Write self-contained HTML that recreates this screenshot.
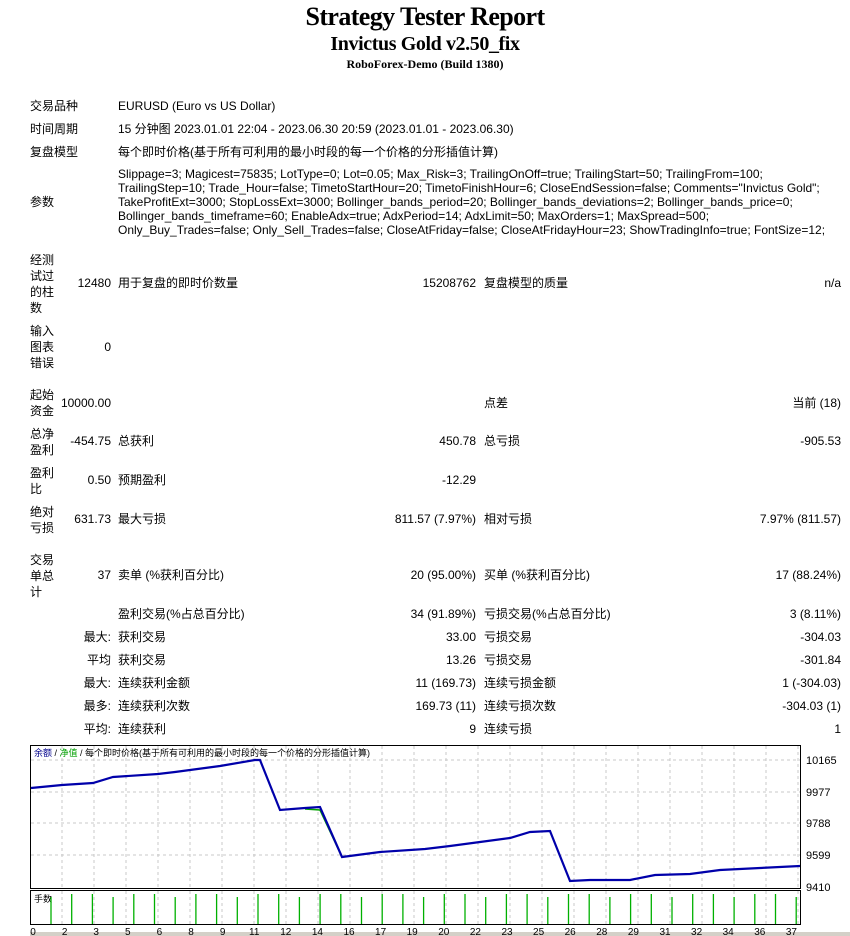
<!DOCTYPE html>
<html><head><meta charset="utf-8"><style>
body{margin:0;width:850px;height:936px;background:#fff;position:relative;overflow:hidden;font-family:"Liberation Sans","Noto Sans CJK SC",sans-serif;font-size:12px;color:#000}
.t{position:absolute;white-space:nowrap;line-height:14px}
.r{text-align:right}
.h{position:absolute;left:0;width:850px;text-align:center;font-family:"Liberation Serif",serif;font-weight:bold;white-space:nowrap}
.ml{position:absolute;left:30px;line-height:16px;width:30px;white-space:normal}
</style></head><body>
<div class="h" style="top:2px;font-size:26px;letter-spacing:-0.6px">Strategy Tester Report</div>
<div class="h" style="top:33px;font-size:20px;letter-spacing:-0.4px">Invictus Gold v2.50_fix</div>
<div class="h" style="top:57px;font-size:12px">RoboForex-Demo (Build 1380)</div>

<div class="t" style="left:30px;top:99px">交易品种</div>
<div class="t" style="left:118px;top:99px">EURUSD (Euro vs US Dollar)</div>
<div class="t" style="left:30px;top:122px">时间周期</div>
<div class="t" style="left:118px;top:122px">15 分钟图 2023.01.01 22:04 - 2023.06.30 20:59 (2023.01.01 - 2023.06.30)</div>
<div class="t" style="left:30px;top:145px">复盘模型</div>
<div class="t" style="left:118px;top:145px">每个即时价格(基于所有可利用的最小时段的每一个价格的分形插值计算)</div>
<div class="t" style="left:30px;top:195px">参数</div>
<div class="t" style="left:118px;top:167px">Slippage=3; Magicest=75835; LotType=0; Lot=0.05; Max_Risk=3; TrailingOnOff=true; TrailingStart=50; TrailingFrom=100;</div>
<div class="t" style="left:118px;top:181px">TrailingStep=10; Trade_Hour=false; TimetoStartHour=20; TimetoFinishHour=6; CloseEndSession=false; Comments="Invictus Gold";</div>
<div class="t" style="left:118px;top:195px">TakeProfitExt=3000; StopLossExt=3000; Bollinger_bands_period=20; Bollinger_bands_deviations=2; Bollinger_bands_price=0;</div>
<div class="t" style="left:118px;top:209px">Bollinger_bands_timeframe=60; EnableAdx=true; AdxPeriod=14; AdxLimit=50; MaxOrders=1; MaxSpread=500;</div>
<div class="t" style="left:118px;top:223px">Only_Buy_Trades=false; Only_Sell_Trades=false; CloseAtFriday=false; CloseAtFridayHour=23; ShowTradingInfo=true; FontSize=12;</div>

<div class="ml" style="top:252px">经测<br>试过<br>的柱<br>数</div>
<div class="t r" style="right:739px;top:276px">12480</div>
<div class="t" style="left:118px;top:276px">用于复盘的即时价数量</div>
<div class="t r" style="right:374px;top:276px">15208762</div>
<div class="t" style="left:484px;top:276px">复盘模型的质量</div>
<div class="t r" style="right:9px;top:276px">n/a</div>

<div class="ml" style="top:323px">输入<br>图表<br>错误</div>
<div class="t r" style="right:739px;top:340px">0</div>

<div class="ml" style="top:387px">起始<br>资金</div>
<div class="t r" style="right:739px;top:396px">10000.00</div>
<div class="t" style="left:484px;top:396px">点差</div>
<div class="t r" style="right:9px;top:396px">当前 (18)</div>

<div class="ml" style="top:426px">总净<br>盈利</div>
<div class="t r" style="right:739px;top:434px">-454.75</div>
<div class="t" style="left:118px;top:434px">总获利</div>
<div class="t r" style="right:374px;top:434px">450.78</div>
<div class="t" style="left:484px;top:434px">总亏损</div>
<div class="t r" style="right:9px;top:434px">-905.53</div>

<div class="ml" style="top:465px">盈利<br>比</div>
<div class="t r" style="right:739px;top:473px">0.50</div>
<div class="t" style="left:118px;top:473px">预期盈利</div>
<div class="t r" style="right:374px;top:473px">-12.29</div>

<div class="ml" style="top:504px">绝对<br>亏损</div>
<div class="t r" style="right:739px;top:512px">631.73</div>
<div class="t" style="left:118px;top:512px">最大亏损</div>
<div class="t r" style="right:374px;top:512px">811.57 (7.97%)</div>
<div class="t" style="left:484px;top:512px">相对亏损</div>
<div class="t r" style="right:9px;top:512px">7.97% (811.57)</div>

<div class="ml" style="top:552px">交易<br>单总<br>计</div>
<div class="t r" style="right:739px;top:568px">37</div>
<div class="t" style="left:118px;top:568px">卖单 (%获利百分比)</div>
<div class="t r" style="right:374px;top:568px">20 (95.00%)</div>
<div class="t" style="left:484px;top:568px">买单 (%获利百分比)</div>
<div class="t r" style="right:9px;top:568px">17 (88.24%)</div>

<div class="t" style="left:118px;top:607px">盈利交易(%占总百分比)</div>
<div class="t r" style="right:374px;top:607px">34 (91.89%)</div>
<div class="t" style="left:484px;top:607px">亏损交易(%占总百分比)</div>
<div class="t r" style="right:9px;top:607px">3 (8.11%)</div>

<div class="t r" style="right:739px;top:630px">最大:</div>
<div class="t" style="left:118px;top:630px">获利交易</div>
<div class="t r" style="right:374px;top:630px">33.00</div>
<div class="t" style="left:484px;top:630px">亏损交易</div>
<div class="t r" style="right:9px;top:630px">-304.03</div>

<div class="t r" style="right:739px;top:653px">平均</div>
<div class="t" style="left:118px;top:653px">获利交易</div>
<div class="t r" style="right:374px;top:653px">13.26</div>
<div class="t" style="left:484px;top:653px">亏损交易</div>
<div class="t r" style="right:9px;top:653px">-301.84</div>

<div class="t r" style="right:739px;top:676px">最大:</div>
<div class="t" style="left:118px;top:676px">连续获利金额</div>
<div class="t r" style="right:374px;top:676px">11 (169.73)</div>
<div class="t" style="left:484px;top:676px">连续亏损金额</div>
<div class="t r" style="right:9px;top:676px">1 (-304.03)</div>

<div class="t r" style="right:739px;top:699px">最多:</div>
<div class="t" style="left:118px;top:699px">连续获利次数</div>
<div class="t r" style="right:374px;top:699px">169.73 (11)</div>
<div class="t" style="left:484px;top:699px">连续亏损次数</div>
<div class="t r" style="right:9px;top:699px">-304.03 (1)</div>

<div class="t r" style="right:739px;top:722px">平均:</div>
<div class="t" style="left:118px;top:722px">连续获利</div>
<div class="t r" style="right:374px;top:722px">9</div>
<div class="t" style="left:484px;top:722px">连续亏损</div>
<div class="t r" style="right:9px;top:722px">1</div>

<svg style="position:absolute;left:0;top:740px" width="850" height="196" viewBox="0 740 850 196" font-family="Liberation Sans, Noto Sans CJK SC, sans-serif">
<rect x="30" y="932" width="820" height="4" fill="#d4d0c8"/>
<g stroke="#c8c8c8" stroke-dasharray="3,3" stroke-width="1">
<line x1="31" y1="760" x2="800" y2="760"/><line x1="31" y1="792" x2="800" y2="792"/><line x1="31" y1="823" x2="800" y2="823"/><line x1="31" y1="855" x2="800" y2="855"/>
<g id="vg"></g>
</g>
<path id="vgp" d="" stroke="#c8c8c8" stroke-dasharray="3,3" fill="none"/>
<rect x="30.5" y="745.5" width="770" height="143" fill="none" stroke="#000"/>
<rect x="30.5" y="890.5" width="770" height="34" fill="none" stroke="#000"/>
<text x="34" y="756" font-size="9"><tspan fill="#00008b">余额</tspan> / <tspan fill="#00a000">净值</tspan> / 每个即时价格(基于所有可利用的最小时段的每一个价格的分形插值计算)</text>
<text x="34" y="902" font-size="9">手数</text>
<polyline fill="none" stroke="#00a000" stroke-width="1.5" points="305,809 320,810 342,857"/>
<polyline fill="none" stroke="#0000aa" stroke-width="2.2" points="31,788 62,785 93,783 113,777 158,774 175,772 220,766 255,760 260,760 280,810 305,808 320,807 342,857 380,852 425,849 450,846 480,842 510,838 530,832 550,831 570,881 590,880 630,880 655,875 690,874 720,870 760,868 800,866"/>
<g stroke="#00b000" stroke-width="1.3" id="bars"></g>
<g font-size="11" fill="#000">
<text x="806" y="764">10165</text><text x="806" y="796">9977</text><text x="806" y="827">9788</text><text x="806" y="859">9599</text><text x="806" y="891">9410</text>
</g>
<g font-size="10" text-anchor="middle" id="xl"></g>
</svg>
<script>
var ns="http://www.w3.org/2000/svg",svg=document.querySelector('svg');
var d="";for(var x=62;x<800;x+=32){d+="M"+x+" 746V888M"+x+" 891V924";}
document.getElementById('vgp').setAttribute('d',d);
var b=document.getElementById('bars');
for(var i=0;i<37;i++){var x=51+i*20.7;var l=document.createElementNS(ns,'line');l.setAttribute('x1',x);l.setAttribute('x2',x);l.setAttribute('y1',(i%3==0?897:894));l.setAttribute('y2',924);b.appendChild(l);}
var labs=["0","2","3","5","6","8","9","11","12","14","16","17","19","20","22","23","25","26","28","29","31","32","34","36","37"];
var xl=document.getElementById('xl');
labs.forEach(function(t,i){var e=document.createElementNS(ns,'text');e.setAttribute('x',33+i*31.6);e.setAttribute('y',935);e.textContent=t;xl.appendChild(e);});
</script>
</body></html>
